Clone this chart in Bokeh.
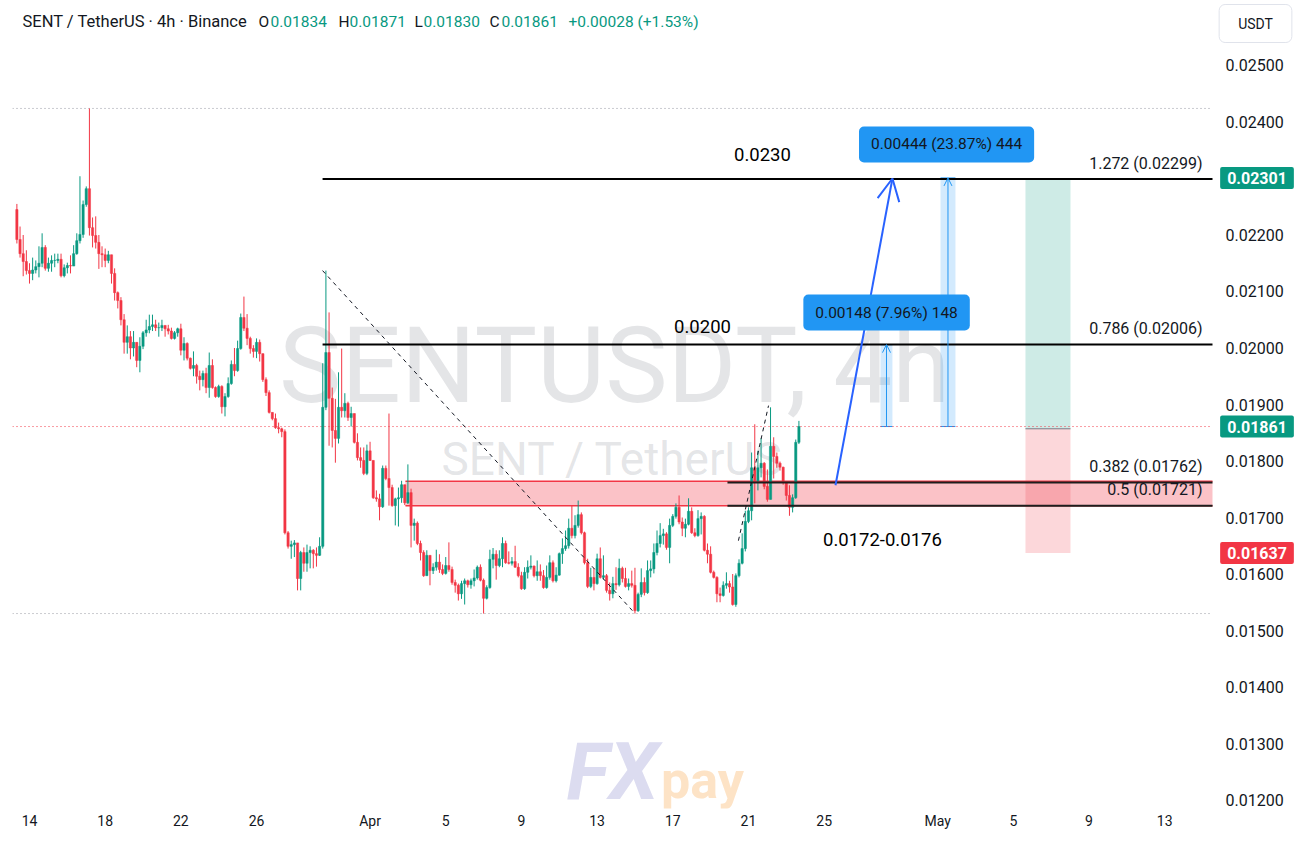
from datetime import datetime, timedelta
from bokeh.plotting import figure
from bokeh.models import (Range1d, FixedTicker, NumeralTickFormatter, Label,
                          Arrow, OpenHead, ColumnDataSource)
from bokeh.embed import file_html
from bokeh.resources import INLINE

# ---------------------------------------------------------------- data
FIRST_CANDLE = datetime(2025, 3, 13, 8)     # 4h candles
AXIS_ORIGIN = datetime(2025, 3, 14)         # x axis measured in days from here
FIRST_OPEN = 0.02245

closes = [
    .02192, .02167, .02153, .02137, .02132, .02138, .02144, .0215, .02178, .02141,
    .0215, .02155, .02155, .02157, .02128, .02142, .02146, .02145, .02167, .0219,
    .02201, .02254, .02282, .02213, .02199, .02187, .02167, .02165, .02155, .02165,
    .02132, .02098, .02084, .0205, .0201, .0202, .0200, .0201, .01978, .02003,
    .02027, .02032, .02038, .02041, .02036, .02036, .0204, .02034, .0203, .02017,
    .02027, .02034, .01996, .02008, .01982, .01964, .01969, .0195, .01944, .01955,
    .0193, .01969, .0193, .01914, .01932, .01896, .01914, .01937, .01971, .0196,
    .01999, .02054, .02035, .02017, .01999, .01994, .0201, .0199, .01944, .01921,
    .01886, .01875, .01859, .01857, .01852, .01673, .01649, .01652, .01655, .01592,
    .01638, .01619, .01638, .01642, .01636, .01633, .01649, .01895, .01992, .01911,
    .01854, .0184, .01895, .01889, .01902, .01877, .01884, .01833, .01806, .01801,
    .01778, .01818, .01801, .01735, .01733, .01719, .01787, .01769, .01753, .01721,
    .01733, .01735, .01758, .01726, .01744, .01686, .0169, .01654, .01638, .01597,
    .01633, .01606, .01612, .01621, .01608, .01601, .01615, .01608, .01585, .0158,
    .01565, .01583, .01588, .01581, .01588, .01593, .01612, .01589, .01557, .01576,
    .01626, .01635, .01615, .01627, .01654, .0162, .01619, .01622, .01612, .01597,
    .01574, .01603, .01612, .01614, .01597, .01604, .01597, .01576, .01594, .0162,
    .01588, .01598, .01636, .01645, .0165, .01681, .01668, .01686, .01705, .01673,
    .0162, .01578, .01594, .01583, .01627, .01594, .01597, .01571, .01565, .01583,
    .01581, .0161, .01592, .01578, .01583, .0158, .01535, .01564, .01585, .01567,
    .01606, .01609, .01638, .01654, .01668, .01671, .01647, .01686, .01702, .01718,
    .01692, .01681, .01688, .01711, .01673, .01668, .01698, .01702, .01642, .01635,
    .01603, .01594, .01565, .01562, .0158, .01583, .01577, .01546, .01597, .01619,
    .01645, .01693, .01712, .01788, .01765, .01788, .01796, .01755, .01732, .01826,
    .01808, .01796, .01789, .01762, .01739, .01718, .01735, .01833, .01861,
]
highs = [
    .02255, .02215, .022, .02173, .0215, .0216, .02155, .0218, .02203, .02182,
    .0216, .02164, .02167, .02167, .02167, .02148, .02151, .02164, .02182, .02203,
    .02304, .02261, .02286, .02424, .02231, .02233, .022, .0218, .02176, .02172,
    .02165, .02141, .021, .0209, .0206, .0204, .0203, .0203, .0201, .02019,
    .0203, .0205, .02059, .02059, .0205, .02045, .0205, .0204, .02041, .02036,
    .0203, .02036, .02043, .02019, .0201, .01983, .01994, .01972, .0196, .0196,
    .01965, .01992, .0198, .01932, .01935, .01934, .0192, .01948, .01978, .02,
    .02013, .02061, .02091, .0206, .0202, .02005, .02017, .02015, .0199, .01948,
    .01925, .01886, .01884, .01868, .01859, .01856, .01676, .01659, .0166, .01655,
    .01641, .01647, .01652, .01649, .01644, .01647, .01665, .01973, .02137, .02063,
    .0193, .0191, .01957, .01999, .0192, .01905, .01896, .01884, .01849, .01824,
    .01824, .01829, .01834, .01801, .01748, .01742, .01792, .01792, .01884, .01758,
    .01735, .01753, .01765, .01758, .01794, .01751, .01698, .01693, .01659, .01642,
    .01642, .01633, .01619, .01643, .01635, .01617, .0163, .01656, .01613, .0159,
    .01583, .01588, .01592, .0159, .01592, .01608, .01615, .01617, .01592, .0158,
    .01643, .01646, .01642, .01642, .01665, .01659, .0164, .0163, .0165, .01619,
    .01604, .01612, .01624, .01633, .01615, .01624, .01617, .01607, .01615, .01633,
    .01624, .01612, .01638, .01663, .01677, .01698, .01721, .01704, .0173, .01709,
    .01675, .01627, .01611, .0161, .01636, .01647, .01633, .016, .01585, .01595,
    .01612, .01627, .01613, .01611, .01592, .01606, .01611, .01567, .0161, .01594,
    .01624, .01624, .01654, .01677, .0169, .0168, .01674, .01698, .01706, .01725,
    .01739, .017, .01698, .01734, .01718, .01681, .01713, .01709, .01704, .01654,
    .01649, .01606, .01596, .01576, .01587, .01603, .01588, .016, .01601, .01626,
    .01672, .01712, .01718, .01815, .01865, .01818, .0184, .01798, .01785, .01895,
    .01842, .01815, .01799, .0179, .01764, .01757, .01741, .01838, .01871,
]
lows = [
    .02185, .0216, .02127, .0213, .02114, .0212, .02132, .02125, .02143, .02137,
    .02135, .02135, .02143, .0215, .02125, .02125, .02132, .02132, .02145, .02165,
    .02185, .02195, .0225, .02199, .02178, .02176, .0214, .02143, .02143, .0215,
    .02114, .02084, .0207, .0204, .0199, .0199, .0198, .01985, .01966, .01957,
    .01998, .0202, .02026, .0203, .0203, .0202, .0203, .0202, .02024, .02015,
    .02015, .0202, .01987, .01978, .01978, .01962, .0195, .01937, .01925, .01932,
    .0192, .01912, .01928, .01912, .01912, .01884, .01879, .01912, .01935, .0195,
    .01958, .01997, .0203, .02005, .0199, .01983, .01982, .01976, .0194, .01915,
    .01884, .01872, .01857, .01849, .01842, .0167, .01645, .01627, .0163, .01571,
    .01571, .01604, .01604, .0161, .0161, .01613, .01632, .01645, .0189, .01827,
    .01824, .01797, .01831, .01877, .01877, .01871, .01861, .01831, .01801, .01788,
    .01775, .01775, .018, .01733, .01728, .01695, .01717, .01766, .01721, .01719,
    .01686, .01684, .01726, .01722, .01724, .01647, .01659, .01651, .01624, .01595,
    .01597, .0158, .016, .01606, .01602, .01598, .01599, .01604, .01581, .01567,
    .01553, .01556, .01546, .01576, .01574, .01578, .0159, .01587, .0153, .01555,
    .01574, .0161, .0159, .01612, .01612, .01618, .01617, .01615, .01611, .01594,
    .01572, .01572, .01592, .01608, .01594, .01588, .01588, .01574, .01574, .0159,
    .01585, .01585, .01597, .01618, .01641, .01645, .01663, .01663, .01682, .0167,
    .01617, .01575, .01575, .01571, .01581, .01592, .0159, .01567, .01553, .01557,
    .01572, .01578, .01585, .01576, .01571, .01576, .0153, .01533, .01559, .01562,
    .01565, .01594, .01601, .01633, .01647, .01652, .01643, .01619, .01683, .01698,
    .01688, .01667, .01665, .01686, .01671, .01665, .01666, .0167, .0164, .01619,
    .01601, .01592, .0155, .0155, .0156, .01574, .01567, .01544, .01542, .01594,
    .01617, .0164, .0169, .01695, .01725, .01748, .01771, .0175, .01728, .01735,
    .01769, .01788, .01783, .01758, .0173, .01703, .01709, .01733, .0183,
]

TICK_DAYS = [0, 4, 8, 12, 18, 22, 26, 30, 34, 38, 42, 48, 52, 56, 60]
TICK_LABELS = ["14", "18", "22", "26", "Apr", "5", "9", "13", "17", "21",
               "25", "May", "5", "9", "13"]
PRICE_TICKS = [0.012, 0.013, 0.014, 0.015, 0.016, 0.017, 0.018, 0.019,
               0.020, 0.021, 0.022, 0.023, 0.024, 0.025]

FIB_LABELS = ["1.272 (0.02299)", "0.786 (0.02006)", "0.382 (0.01762)", "0.5 (0.01721)"]
FIB_VALUES = [0.02299, 0.02006, 0.01762, 0.01721]
ZONE_LOW, ZONE_HIGH = 0.01721, 0.01764
ENTRY, TAKE_PROFIT, STOP_LOSS = 0.01857, 0.02301, 0.01637
LAST_CLOSE = 0.01861
MEASURE_TEXTS = ["0.00148 (7.96%) 148", "0.00444 (23.87%) 444"]
MEASURE_TOPS = [0.02006, 0.02301]
HEADER_VALUES = ["0.01834", "0.01871", "0.01830", "0.01861"]
HEADER_CHANGE = "+0.00028 (+1.53%)"

# ---------------------------------------------------------------- style
UP, DOWN = "#089981", "#f23645"
TEXT = "#131722"
FONT = "Roboto"
X_START, X_END = -0.8985, 67.23       # frame spans the price-scale column too
AXIS_DAY = 62.526                     # where the price scale starts
Y_LOW, Y_HIGH = 0.0118496, 0.0261504

n = len(closes)
xs = [((FIRST_CANDLE + timedelta(hours=4 * i)) - AXIS_ORIGIN).total_seconds() / 86400
      for i in range(n)]
opens = [FIRST_OPEN] + closes[:-1]
hi = [max(h, o, c) for h, o, c in zip(highs, opens, closes)]
lo = [min(l, o, c) for l, o, c in zip(lows, opens, closes)]
colors = [UP if c >= o else DOWN for o, c in zip(opens, closes)]
src = ColumnDataSource(dict(x=xs, open=opens, close=closes, high=hi, low=lo,
                            top=[max(o, c) for o, c in zip(opens, closes)],
                            bottom=[min(o, c) for o, c in zip(opens, closes)],
                            color=colors))

p = figure(frame_width=1289, frame_height=808, x_range=Range1d(X_START, X_END),
           y_range=Range1d(Y_LOW, Y_HIGH), y_axis_location="right",
           output_backend="svg", toolbar_location=None,
           min_border_left=12, min_border_right=0, min_border_top=0,
           min_border_bottom=26, outline_line_color=None,
           background_fill_color="white", border_fill_color="white")
p.grid.visible = False

xa = p.xaxis[0]
xa.ticker = FixedTicker(ticks=TICK_DAYS)
xa.major_label_overrides = {d: t for d, t in zip(TICK_DAYS, TICK_LABELS)}
xa.major_tick_line_color = None
xa.minor_tick_line_color = None
xa.major_tick_out = 0
xa.major_tick_in = 0
xa.axis_line_color = None
xa.major_label_text_font = FONT
xa.major_label_text_font_size = "14px"
xa.major_label_text_color = TEXT
xa.major_label_standoff = 4

ya = p.yaxis[0]
ya.fixed_location = AXIS_DAY
ya.ticker = FixedTicker(ticks=PRICE_TICKS)
ya.formatter = NumeralTickFormatter(format="0.00000")
ya.major_tick_line_color = None
ya.minor_tick_line_color = None
ya.major_tick_out = 0
ya.major_tick_in = 0
ya.axis_line_color = None
ya.major_label_text_font = FONT
ya.major_label_text_font_size = "16px"
ya.major_label_text_color = TEXT
ya.major_label_standoff = 13

# ------------------------------------------------------------ watermarks
p.add_layout(Label(x=602, y=442, x_units="screen", y_units="screen",
                   text="SENTUSDT, 4h", text_align="center", text_baseline="middle",
                   text_font=FONT, text_font_size="105px", text_color="#787b86",
                   text_alpha=0.2, level="underlay"))
p.add_layout(Label(x=600, y=350, x_units="screen", y_units="screen",
                   text="SENT / TetherUS", text_align="center", text_baseline="middle",
                   text_font=FONT, text_font_size="46px", text_color="#787b86",
                   text_alpha=0.2, level="underlay"))
p.add_layout(Label(x=600, y=37, x_units="screen", y_units="screen",
                   text="FX", text_align="center", text_baseline="middle",
                   text_font=FONT, text_font_size="80px", text_font_style="bold italic",
                   text_color="#dcdcf0", level="underlay"))
p.add_layout(Label(x=690, y=28, x_units="screen", y_units="screen",
                   text="pay", text_align="center", text_baseline="middle",
                   text_font=FONT, text_font_size="52px", text_font_style="bold",
                   text_color="#fde3c6", level="underlay"))

# ------------------------------------------------------------ zones
p.quad(left=[19.87], right=[AXIS_DAY], bottom=[ZONE_LOW], top=[ZONE_HIGH],
       fill_color=DOWN, fill_alpha=0.3, line_color=None)
p.segment(x0=[19.87, 19.87], y0=[ZONE_LOW, ZONE_HIGH], x1=[AXIS_DAY, AXIS_DAY],
          y1=[ZONE_LOW, ZONE_HIGH], line_color=DOWN, line_width=1.5)
# long position tool
p.quad(left=[52.64], right=[55.02], bottom=[ENTRY], top=[TAKE_PROFIT],
       fill_color=UP, fill_alpha=0.2, line_color=None)
p.quad(left=[52.64], right=[55.02], bottom=[STOP_LOSS], top=[ENTRY],
       fill_color=DOWN, fill_alpha=0.2, line_color=None)
p.segment(x0=[52.64], y0=[ENTRY], x1=[55.02], y1=[ENTRY], line_color="#787b86", line_width=1)

# price range measurement bands
for left, right, top in [(44.98, 45.61, MEASURE_TOPS[0]), (48.15, 48.94, MEASURE_TOPS[1])]:
    p.quad(left=[left], right=[right], bottom=[LAST_CLOSE], top=[top],
           fill_color="#2196f3", fill_alpha=0.2, line_color=None)
    p.segment(x0=[left, left], y0=[LAST_CLOSE, top], x1=[right, right],
              y1=[LAST_CLOSE, top], line_color="#2196f3", line_width=1)
    mid = (left + right) / 2
    p.add_layout(Arrow(end=OpenHead(size=8, line_color="#2196f3", line_width=1),
                       x_start=mid, y_start=LAST_CLOSE, x_end=mid, y_end=top,
                       line_color="#2196f3", line_width=1))

# ------------------------------------------------------------ reference lines
p.segment(x0=[X_START, X_START], y0=[max(hi), min(lo)], x1=[AXIS_DAY, AXIS_DAY],
          y1=[max(hi), min(lo)], line_color="#9598a1", line_dash="1 3", line_width=1)
p.segment(x0=[X_START], y0=[LAST_CLOSE], x1=[AXIS_DAY], y1=[LAST_CLOSE],
          line_color=DOWN, line_dash="1 3", line_width=1)

# ------------------------------------------------------------ candles
p.segment(x0="x", y0="high", x1="x", y1="low", line_color="color", line_width=1, source=src)
p.vbar(x="x", width=0.72 / 6, top="top", bottom="bottom", fill_color="color",
       line_color="color", line_width=0.5, source=src)

# ------------------------------------------------------------ drawings
p.segment(x0=[15.49, 15.49], y0=FIB_VALUES[:2], x1=[AXIS_DAY, AXIS_DAY], y1=FIB_VALUES[:2],
          line_color="black", line_width=2)
p.segment(x0=[36.89, 36.89], y0=FIB_VALUES[2:], x1=[AXIS_DAY, AXIS_DAY], y1=FIB_VALUES[2:],
          line_color="#1e1e1e", line_width=2)
p.segment(x0=[15.49], y0=[0.02137], x1=[31.87], y1=[0.01535],
          line_color="#131722", line_width=1, line_dash="4 4")
p.segment(x0=[37.47], y0=[0.01659], x1=[39.06], y1=[0.01898],
          line_color="#131722", line_width=1, line_dash="4 4")
p.add_layout(Arrow(end=OpenHead(size=22, line_color="#2962ff", line_width=2),
                   x_start=42.60, y_start=0.01757, x_end=45.61, y_end=0.02300,
                   line_color="#2962ff", line_width=2))

for txt, lvl in zip(FIB_LABELS, FIB_VALUES):
    p.add_layout(Label(x=62.0, y=lvl, y_offset=16, text=txt, text_align="right",
                       text_baseline="middle", text_font=FONT, text_font_size="16px",
                       text_color=TEXT))

for txt, x, y in [("0.0230", 38.74, 0.023425), ("0.0200", 35.57, 0.020381),
                  ("0.0172-0.0176", 45.08, 0.016611)]:
    p.add_layout(Label(x=x, y=y, text=txt, text_align="center", text_baseline="middle",
                       text_font=FONT, text_font_size="18.5px", text_color="black"))

for txt, x, y in [(MEASURE_TEXTS[0], 45.30, 0.020628), (MEASURE_TEXTS[1], 48.47, 0.023602)]:
    p.add_layout(Label(x=x, y=y, text=txt, text_align="center", text_baseline="middle",
                       text_font=FONT, text_font_size="15.5px", text_color=TEXT,
                       background_fill_color="#2196f3", border_radius=5,
                       padding=(12, 9)))

# ------------------------------------------------------------ price tags on the scale
for price, col in [(TAKE_PROFIT, UP), (LAST_CLOSE, UP), (STOP_LOSS, DOWN)]:
    p.add_layout(Label(x=62.93, y=price, text=f"{price:.5f}", text_align="left",
                       text_baseline="middle", text_font=FONT, text_font_size="16px",
                       text_font_style="bold", text_color="white",
                       background_fill_color=col, border_radius=2, padding=(7, 5)))

p.add_layout(Label(x=1243, y=785, x_units="screen", y_units="screen", text="USDT",
                   text_align="center", text_baseline="middle", text_font=FONT,
                   text_font_size="14px", text_color=TEXT,
                   background_fill_color="white", border_line_color="#e0e3eb",
                   border_radius=6, padding=(19, 11)))

# ------------------------------------------------------------ header
hx = [10, 246, 258, 326, 337, 402, 411, 477, 489, 556]
htexts = [("SENT / TetherUS · 4h · Binance", TEXT), ("O", TEXT), (HEADER_VALUES[0], UP),
          ("H", TEXT), (HEADER_VALUES[1], UP), ("L", TEXT), (HEADER_VALUES[2], UP),
          ("C", TEXT), (HEADER_VALUES[3], UP), (HEADER_CHANGE, UP)]
for i, (x, (txt, col)) in enumerate(zip(hx, htexts)):
    p.add_layout(Label(x=x, y=787, x_units="screen", y_units="screen", text=txt,
                       text_align="left", text_baseline="middle", text_font=FONT,
                       text_font_size="16.5px" if i == 0 else "15.5px", text_color=col))

open("out.html", "w").write(file_html(p, INLINE))
